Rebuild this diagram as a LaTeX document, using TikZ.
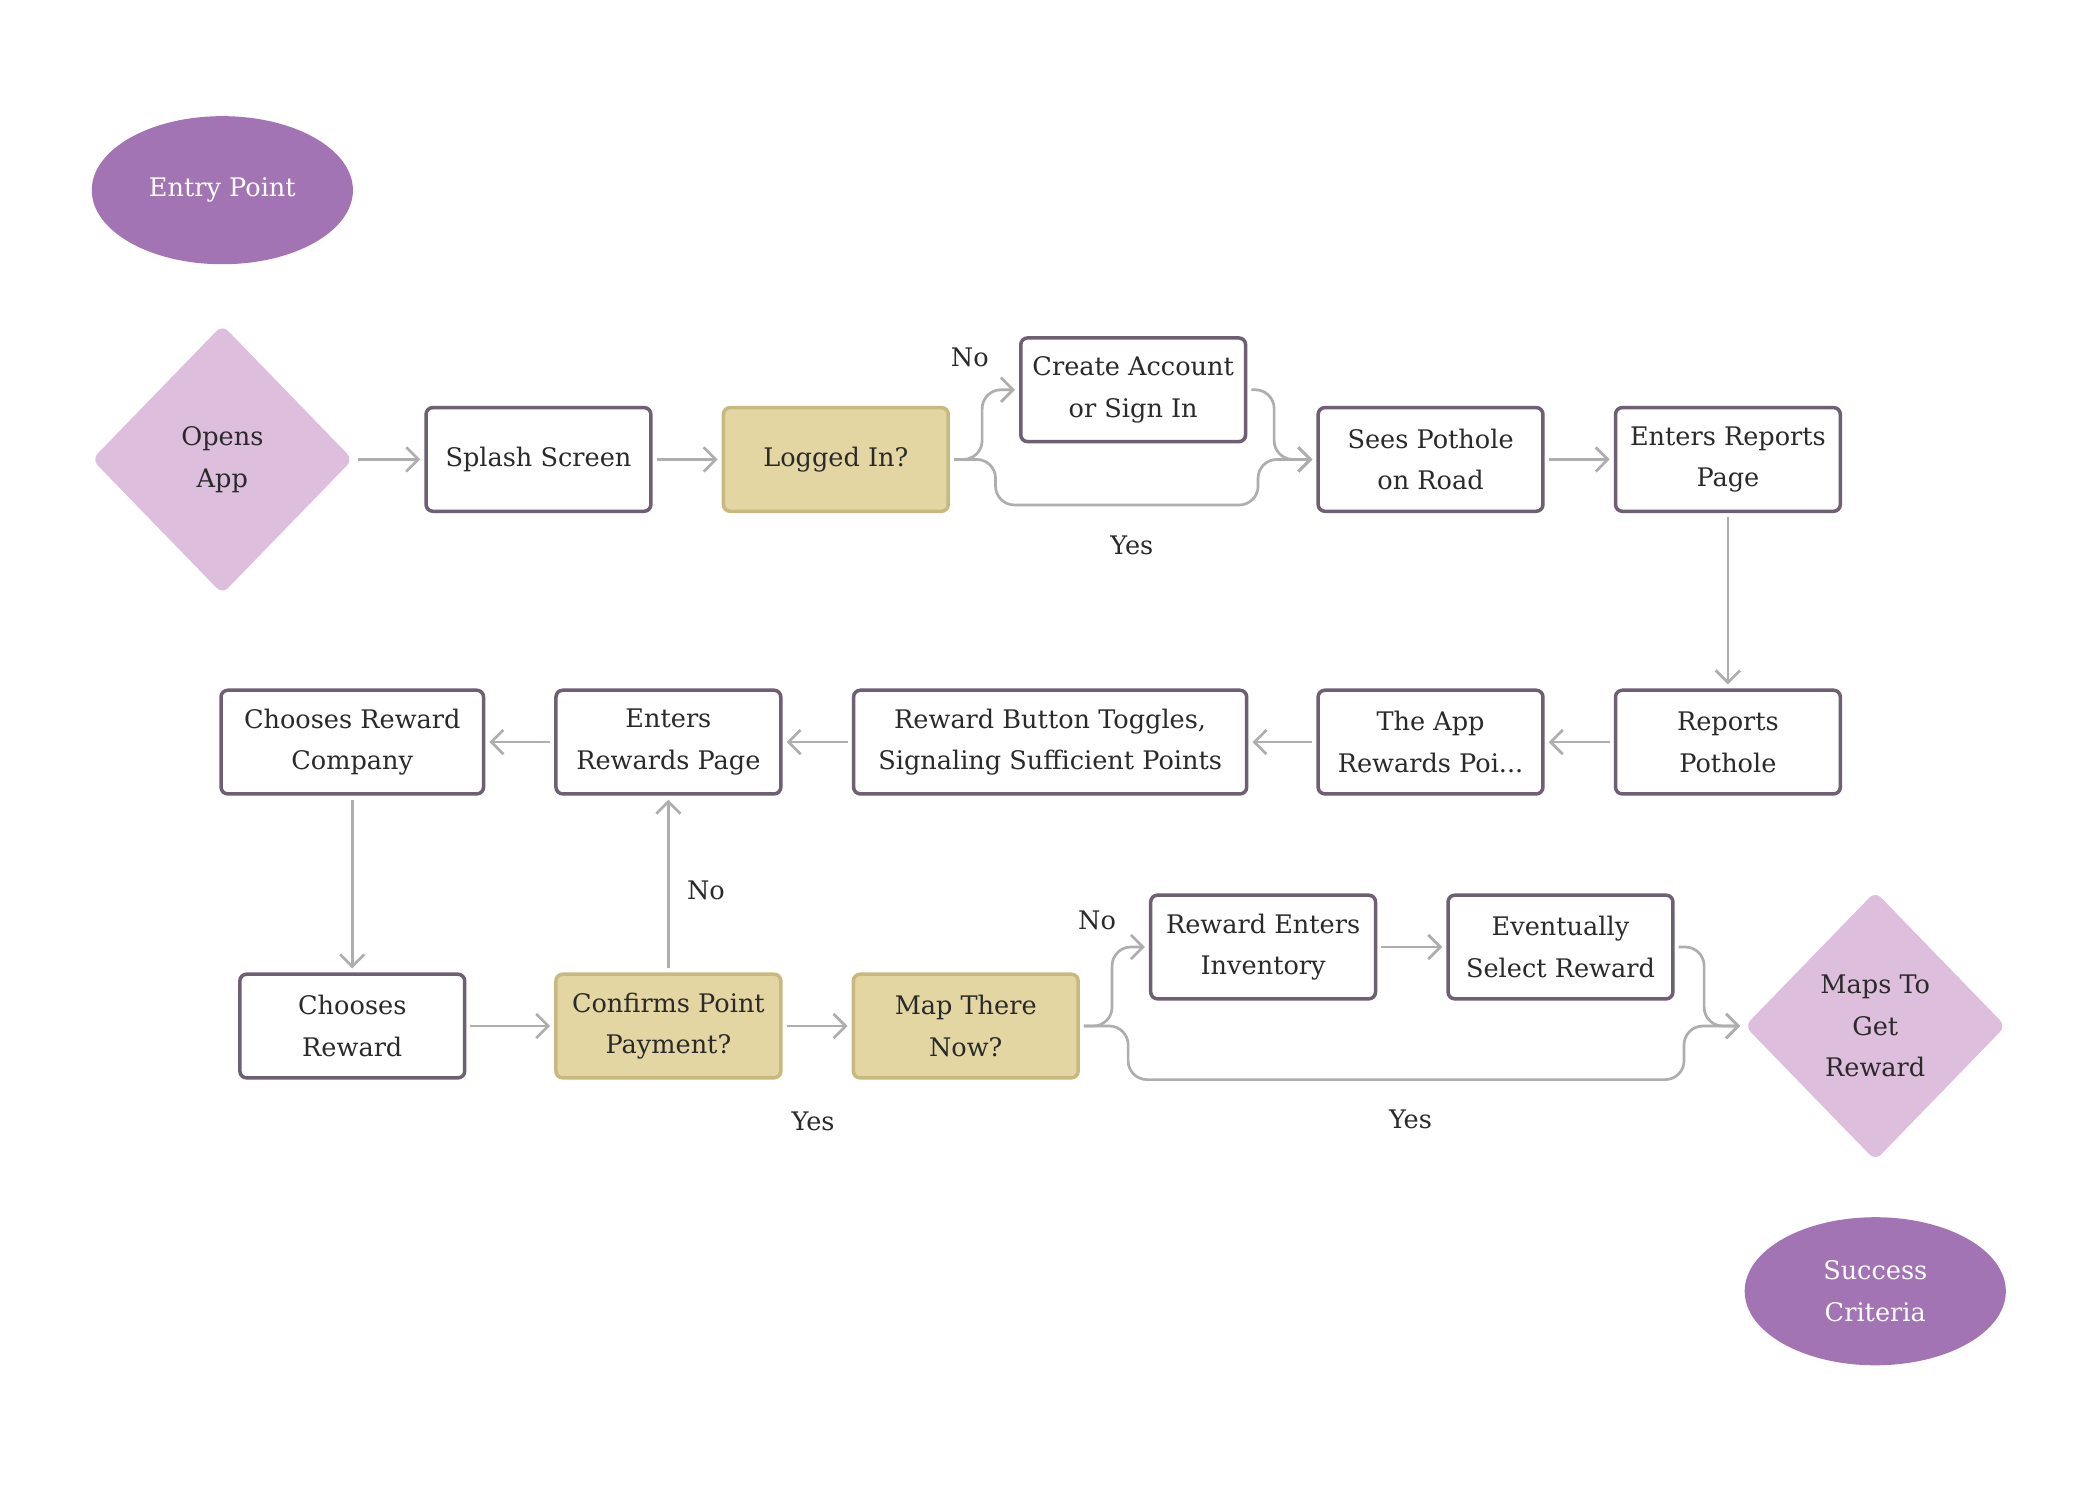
\documentclass[tikz,border=0pt]{standalone}
\usepackage{fontspec}
\setmainfont{DejaVu Serif}
\usetikzlibrary{arrows.meta,shapes.geometric}
\definecolor{boxc}{HTML}{6E5F73}
\definecolor{khaki}{HTML}{E3D6A3}
\definecolor{khakid}{HTML}{C8B97F}
\definecolor{dia}{HTML}{DDBEDC}
\definecolor{ell}{HTML}{A374B3}
\definecolor{arrc}{HTML}{AEAEAE}
\definecolor{txtc}{HTML}{2A2A2A}
\newcommand\dfont{\fontsize{9.5}{15.5}\selectfont}
\begin{document}
\begin{tikzpicture}[x=0.4975pt,y=-0.4975pt,
  box/.style={draw=boxc, line width=1.3pt, rounded corners=2.5pt, fill=white,
    minimum width=83.5pt, minimum height=38.5pt, align=center, inner sep=0pt,
    font=\dfont, text=txtc},
  dec/.style={box, fill=khaki, draw=khakid},
  dia/.style={shape=diamond, fill=dia, draw=none, minimum width=97pt,
    minimum height=100pt, inner sep=0pt, align=center, font=\dfont, text=txtc,
    rounded corners=3pt},
  term/.style={shape=ellipse, fill=ell, draw=none, minimum width=97pt,
    minimum height=55pt, inner sep=0pt, align=center, font=\dfont, text=white},
  arr/.style={draw=arrc, line width=1pt, rounded corners=7pt,
    -{Straight Barb[length=4.5pt,width=9pt,line width=1pt]},
    shorten >=1.5pt, shorten <=1.5pt},
  lab/.style={font=\dfont, text=txtc, inner sep=0pt}]
\useasboundingbox (0,0) rectangle (1567.8,1109.5);
\fill[white] (0,0) rectangle (1567.8,1109.5);

\node[term] (entry) at (166,142) {Entry Point};
\node[dia] (opens) at (166,343) {Opens\\App};
\node[box] (splash) at (402,343) {Splash Screen};
\node[dec] (logged) at (624,343) {Logged In?};
\node[box] (create) at (846,291) {Create Account\\or Sign In};
\node[box] (sees) at (1068,343) {Sees Pothole\\on Road};
\node[box] (enters) at (1290,343) {Enters Reports\\Page};
\node[box] (reports) at (1290,554) {Reports\\Pothole};
\node[box] (theapp) at (1068,554) {The App\\Rewards Poi...};
\node[box, minimum width=146pt] (toggle) at (784,554) {Reward Button Toggles,\\Signaling Sufficient Points};
\node[box] (rpage) at (499,554) {Enters\\Rewards Page};
\node[box, minimum width=97.5pt] (company) at (263,554) {Chooses Reward\\Company};
\node[box] (choose) at (263,766) {Chooses\\Reward};
\node[dec] (confirm) at (499,766) {Confirms Point\\Payment?};
\node[dec] (mapnow) at (721,766) {Map There\\Now?};
\node[box] (inv) at (943,707) {Reward Enters\\Inventory};
\node[box] (event) at (1165,707) {Eventually\\Select Reward};
\node[dia] (maps) at (1400,766) {Maps To\\Get\\Reward};
\node[term] (success) at (1400,964) {Success\\Criteria};

\node[lab] (l1) at (724,267) {No};
\node[lab] (l2) at (845,407) {Yes};
\node[lab] (l3) at (527,665) {No};
\node[lab] (l4) at (607,837) {Yes};
\node[lab] (l5) at (819,687) {No};
\node[lab] (l6) at (1053,836) {Yes};

\draw[arr] (opens.east) -- (splash.west);
\draw[arr] (splash.east) -- (logged.west);
\draw[arr] (logged.east) -- ++(24,0) |- (create.west);
\draw[arr] (logged.east) -- ++(34,0) -- ++(0,34) -- ++(196,0) -- ++(0,-34) -- (sees.west);
\draw[arr] (create.east) -- ++(20,0) |- (sees.west);
\draw[arr] (sees.east) -- (enters.west);
\draw[arr] (enters.south) -- (reports.north);
\draw[arr] (reports.west) -- (theapp.east);
\draw[arr] (theapp.west) -- (toggle.east);
\draw[arr] (toggle.west) -- (rpage.east);
\draw[arr] (rpage.west) -- (company.east);
\draw[arr] (company.south) -- (choose.north);
\draw[arr] (choose.east) -- (confirm.west);
\draw[arr] (confirm.north) -- (rpage.south);
\draw[arr] (confirm.east) -- (mapnow.west);
\draw[arr] (mapnow.east) -- ++(24,0) |- (inv.west);
\draw[arr] (inv.east) -- (event.west);
\draw[arr] (event.east) -- ++(22,0) |- (maps.west);
\draw[arr] (mapnow.east) -- ++(36,0) -- ++(0,40) -- ++(415,0) -- ++(0,-40) -- (maps.west);
\end{tikzpicture}
\end{document}
